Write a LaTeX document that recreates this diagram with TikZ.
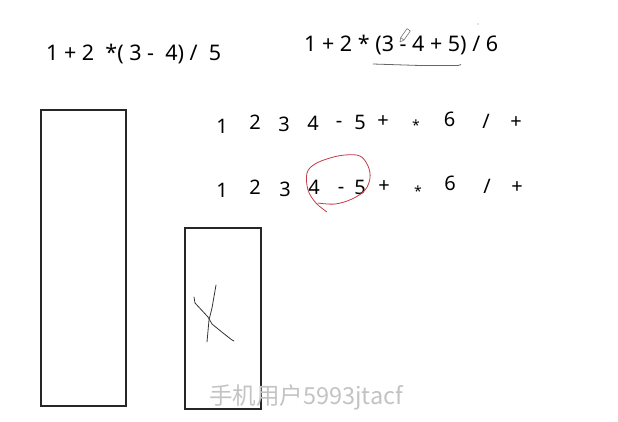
\documentclass[tikz,border=0pt]{standalone}
\usepackage{fontspec}
\setmainfont{Noto Sans}
\newfontfamily\cjk{Noto Sans CJK SC}
\usetikzlibrary{calc}
\definecolor{inkred}{RGB}{196,58,72}
\definecolor{wmgray}{RGB}{195,195,195}

\begin{document}
\begin{tikzpicture}[
    x=1pt, y=-1pt,
    expr/.style={inner sep=0pt, anchor=base west, font=\fontsize{21.5}{26}\selectfont},
    tok/.style={inner sep=0pt, font=\fontsize{20}{24}\selectfont},
    startok/.style={inner sep=0pt, font=\fontsize{14}{16}\selectfont},
    stack/.style={draw=black!85, line width=1.2pt},
    pen/.style={line width=0.8pt, black!80, line cap=round, line join=round},
    wmark/.style={inner sep=0pt, text=wmgray, font=\cjk\fontsize{23.5}{28}\selectfont}
  ]
  \useasboundingbox (0,0) rectangle (618,421);

  % the two expressions
  \node[expr] (exprA) at (46,60) {1 + 2\ \ *( 3 -\ \ 4) /\ \ 5};
  \node[expr] (exprB) at (304,51) {1 + 2 * (3 - 4 + 5) / 6};
  \draw[black!60, line width=0.8pt] (373,64) -- (420,65.5) -- (458,65.5) -- (461,64.5);

  % pencil mark
  \draw[black!55, line width=0.6pt, line join=round] (400,42) -- (403.9,40.0) -- (410.3,31.0) -- (407.1,28.6) -- (400.7,37.6) -- cycle;
  \draw[black!55, line width=0.6pt] (400.7,37.6) -- (403.9,40.0);
  \fill[black!50] (478,24) circle (0.7);

  % postfix, first try
  \node[tok] (a1)  at (222,126) {1};
  \node[tok] (a2)  at (255,122) {2};
  \node[tok] (a3)  at (284,124.5) {3};
  \node[tok] (a4)  at (313,123) {4};
  \node[tok] (a5)  at (339,124) {-};
  \node[tok] (a6)  at (360,122) {5};
  \node[tok] (a7)  at (383,121.5) {+};
  \node[startok] (a8) at (416,125) {*};
  \node[tok] (a9)  at (449.5,119) {6};
  \node[tok] (a10) at (486,121) {/};
  \node[tok] (a11) at (516,123) {+};

  % postfix, second try
  \node[tok] (b1)  at (222,190.5) {1};
  \node[tok] (b2)  at (255,187.5) {2};
  \node[tok] (b3)  at (285,189.5) {3};
  \node[tok] (b4)  at (314,187.5) {4};
  \node[tok] (b5)  at (341,190) {-};
  \node[tok] (b6)  at (360,187) {5};
  \node[tok] (b7)  at (384,187) {+};
  \node[startok] (b8) at (418,191) {*};
  \node[tok] (b9)  at (450,183) {6};
  \node[tok] (b10) at (487,186.5) {/};
  \node[tok] (b11) at (517,188) {+};

  % circled sub-expression
  \draw[inkred, line width=0.8pt] plot[smooth, tension=0.6] coordinates {(327,212) (316,203) (308,190) (307,173) (315,164) (330,158) (345,155) (360,156) (368,166) (370,178) (365,190) (352,199) (335,204) (318,203)};

  % stacks
  \draw[stack] (41,110) rectangle (126,406);
  \draw[stack] (185,228) rectangle (261,409);
  \draw[pen] (216,285) -- (212,308) -- (209,320) -- (207,342);
  \draw[pen] (194,297) -- (195,303) -- (208,317) -- (212,324) -- (223,333) -- (232,340) -- (234,341);

  \node[wmark] (wm) at (306,397) {手机用户5993jtacf};
\end{tikzpicture}
\end{document}
